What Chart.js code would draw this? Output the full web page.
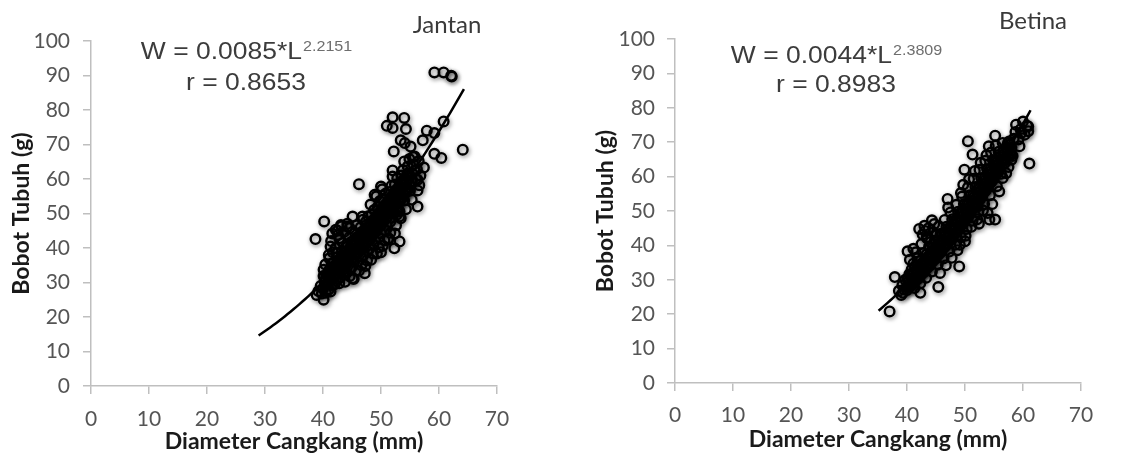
<!DOCTYPE html>
<html>
<head>
<meta charset="utf-8">
<script src="https://cdn.jsdelivr.net/npm/chart.js@4.4.1/dist/chart.umd.min.js"></script>
<style>
  html, body { margin: 0; padding: 0; background: #ffffff; }
  #wrap { position: relative; width: 1148px; height: 455px; overflow: hidden; }
  canvas { position: absolute; top: 0; }
</style>
</head>
<body>
<div id="wrap">
  <canvas id="jantan" width="574" height="455" style="left:0;width:574px;height:455px"></canvas>
  <canvas id="betina" width="574" height="455" style="left:574px;width:574px;height:455px"></canvas>
</div>
<script>
// ---- Axis ticks ----
const diameterTicks = [0, 10, 20, 30, 40, 50, 60, 70];
const bobotTicks = [0, 10, 20, 30, 40, 50, 60, 70, 80, 90, 100];

// ---- Jantan (male): shell diameter (mm) vs body weight (g) ----
const janDiameter = [
  39.2,39.6,39.8,40.0,40.3,40.5,40.2,40.7,40.9,40.4,
  41.0,41.2,41.3,41.5,41.6,41.8,41.1,41.7,41.4,41.9,41.6,
  42.0,42.1,42.3,42.4,42.2,42.6,42.7,42.8,42.5,42.9,42.3,42.6,
  43.0,43.1,43.2,43.3,43.4,43.6,43.5,43.7,43.8,43.9,43.2,43.8,
  44.0,44.1,44.2,44.3,44.5,44.6,44.4,44.7,44.8,44.9,44.2,44.6,
  45.0,45.1,45.2,45.3,45.5,45.4,45.6,45.7,45.8,45.9,45.3,45.7,
  46.0,46.1,46.2,46.3,46.5,46.4,46.6,46.7,46.8,46.9,46.2,46.6,
  47.0,47.1,47.2,47.3,47.4,47.5,47.6,47.7,47.8,47.9,47.3,47.6,
  48.0,48.1,48.2,48.3,48.4,48.5,48.6,48.7,48.8,48.9,48.3,48.6,48.2,
  49.0,49.1,49.2,49.3,49.4,49.5,49.6,49.7,49.8,49.9,49.3,49.6,49.2,
  50.0,50.1,50.2,50.3,50.4,50.5,50.6,50.7,50.8,50.9,50.3,50.6,50.2,
  51.0,51.1,51.2,51.3,51.4,51.5,51.6,51.7,51.8,51.9,51.3,51.6,
  52.0,52.1,52.2,52.3,52.4,52.5,52.6,52.7,52.8,52.9,52.4,52.7,
  53.0,53.1,53.2,53.3,53.5,53.6,53.4,53.7,53.8,53.9,
  54.0,54.2,54.4,54.5,54.6,54.7,54.3,54.8,54.9,
  55.0,55.2,55.4,55.6,55.8,55.5,55.3,
  56.0,56.2,56.5,56.8,56.6,
  40.1,40.6,41.1,41.6,42.1,42.6,43.1,43.6,44.1,44.6,45.1,45.6,46.1,46.6,47.1,
  47.6,48.1,48.6,49.1,49.6,50.1,50.6,51.1,51.6,52.1,52.6,53.1,53.6,54.1,54.6,
  40.4,40.9,41.4,41.9,42.4,42.9,43.4,43.9,44.4,44.9,45.4,45.9,46.4,46.9,47.4,
  47.9,48.4,48.9,49.4,49.9,50.4,50.9,51.4,51.9,52.4,52.9,53.4,53.9,54.4,54.9,
  40.3,40.8,41.3,41.8,42.3,42.8,43.3,43.8,44.3,44.8,45.3,45.8,46.3,46.8,
  47.3,47.8,48.3,48.8,49.3,49.8,50.3,50.8,51.3,51.8,52.3,52.8,53.3,53.8,
  59.2,60.8,62.1,62.2,64.1,60.4,59.2,60.8,59.2,57.9,
  57.2,57.4,56.3,56.3,56.3,55.8,55.1,52.0,51.0,52.0,
  54.0,54.3,53.4,54.1,52.2,54.0,52.0,46.2,50.0,52.0,
  53.2,45.1,40.2,38.7,42.2,43.1,44.2,41.3,41.0,40.1,
  38.9,40.1,41.3,42.8,45.1,47.2,50.0,52.3,53.2,51.2,
  46.8,48.9,53.2,53.2,53.4,54.0,55.3
];
const janBobot = [
  27.5,29.0,26.8,28.2,30.5,27.0,31.8,29.5,32.6,35.2,
  28.0,30.8,33.0,35.5,29.2,31.9,37.0,38.8,42.0,34.4,44.2,
  29.5,32.5,34.8,37.2,40.0,31.0,36.0,42.8,45.0,33.4,38.6,43.8,
  31.5,34.2,36.6,39.0,41.5,44.6,33.0,37.8,35.4,40.2,46.3,30.2,
  32.8,35.6,38.2,40.6,43.0,45.8,36.8,34.0,39.5,41.8,47.0,31.8,
  34.5,37.0,39.4,42.0,44.4,36.0,40.8,38.2,46.6,43.2,31.0,33.5,
  36.0,38.6,41.2,43.6,46.0,39.8,35.0,42.4,44.8,48.2,33.4,37.5,
  38.0,40.4,42.8,45.2,47.6,41.6,36.4,44.0,49.2,46.4,34.8,39.2,
  39.8,42.4,44.8,47.2,49.6,43.6,38.4,46.0,51.0,48.4,36.6,41.2,52.6,
  42.0,44.6,47.0,49.4,51.8,45.8,40.2,48.2,53.6,50.6,38.4,43.2,55.0,
  44.2,46.8,49.2,51.6,54.0,47.8,42.2,50.4,55.8,52.8,40.6,45.2,57.0,
  46.4,49.0,51.4,53.8,56.2,50.0,44.4,52.6,58.0,55.0,42.8,47.6,
  48.8,51.2,53.6,56.0,58.4,52.4,46.6,54.8,60.2,57.2,44.2,49.6,
  51.2,53.6,56.0,58.6,61.0,54.6,48.6,57.4,62.6,59.8,
  53.8,56.4,58.8,61.4,63.6,57.0,51.2,60.2,65.8,
  56.6,59.2,61.6,64.2,62.4,66.4,54.0,
  60.0,62.8,65.2,61.0,58.2,
  31.9,32.2,33.6,34.4,35.0,36.3,37.1,37.8,39.0,39.9,40.8,41.9,42.6,43.8,44.7,
  45.9,46.6,48.0,48.8,50.1,50.9,52.3,53.0,54.6,55.4,56.8,57.6,59.3,60.1,61.6,
  29.1,29.6,30.9,31.3,32.5,33.1,34.4,34.9,36.2,36.8,38.1,38.7,40.0,40.6,42.1,
  42.5,43.9,44.6,46.0,46.5,47.9,48.7,50.1,50.9,52.3,53.3,54.6,55.8,57.0,58.5,
  30.2,31.9,32.0,33.7,33.6,35.4,35.5,37.3,37.3,39.2,39.2,41.1,41.2,43.1,
  43.2,45.2,45.3,47.3,47.4,49.4,49.6,51.6,51.8,53.8,54.1,56.2,56.4,58.5,
  90.9,90.9,89.9,89.7,68.5,66.1,67.3,76.7,73.3,74.0,
  71.2,63.3,59.8,56.7,52.0,66.5,69.4,77.9,75.4,74.8,
  77.7,74.5,71.2,70.4,68.0,65.1,62.5,58.5,57.8,60.7,
  57.8,49.1,47.7,42.6,45.3,46.7,46.2,40.4,38.0,33.7,
  26.4,25.0,27.4,29.8,31.2,32.7,38.8,39.9,41.9,42.4,
  49.1,55.4,49.1,50.6,54.0,55.4,59.3
];

// ---- Betina (female): shell diameter (mm) vs body weight (g) ----
const betDiameter = [
  38.6,39.0,39.2,39.5,39.7,
  40.0,40.2,40.4,40.6,40.8,40.5,
  41.0,41.2,41.4,41.6,41.8,41.5,41.3,
  42.0,42.2,42.4,42.6,42.8,42.5,42.3,42.7,
  43.0,43.2,43.4,43.6,43.8,43.5,43.3,43.7,43.1,
  44.0,44.2,44.4,44.6,44.8,44.5,44.3,44.7,44.1,
  45.0,45.2,45.4,45.6,45.8,45.5,45.3,45.7,45.1,
  46.0,46.2,46.4,46.6,46.8,46.5,46.3,46.7,
  47.0,47.2,47.4,47.6,47.8,47.5,47.3,47.7,47.1,
  48.0,48.2,48.4,48.6,48.8,48.5,48.3,48.7,
  49.0,49.2,49.4,49.6,49.8,49.5,49.3,49.7,49.1,
  50.0,50.2,50.4,50.6,50.8,50.5,50.3,50.7,50.1,
  51.0,51.2,51.4,51.6,51.8,51.5,51.3,51.7,51.1,
  52.0,52.2,52.4,52.6,52.8,52.5,52.3,52.7,52.1,
  53.0,53.2,53.4,53.6,53.8,53.5,53.3,53.7,53.1,
  54.0,54.2,54.4,54.6,54.8,54.5,54.3,54.7,
  55.0,55.2,55.4,55.6,55.8,55.5,55.3,
  56.0,56.3,56.6,56.8,56.5,56.2,
  57.0,57.3,57.6,57.8,57.5,
  58.0,58.4,58.7,58.2,
  59.2,59.6,60.0,60.3,60.7,
  40.1,40.6,41.1,41.6,42.1,42.6,43.1,43.6,44.1,44.6,45.1,45.6,
  46.1,46.6,47.1,47.6,48.1,48.6,49.1,49.6,50.1,50.6,51.1,51.6,
  52.1,52.6,53.1,53.6,54.1,54.6,55.1,55.6,56.1,56.6,57.1,57.6,
  40.4,40.9,41.4,41.9,42.4,42.9,43.4,43.9,44.4,44.9,45.4,45.9,
  46.4,46.9,47.4,47.9,48.4,48.9,49.4,49.9,50.4,50.9,51.4,51.9,
  52.4,52.9,53.4,53.9,54.4,54.9,55.4,55.9,56.4,56.9,57.4,57.9,
  40.3,40.8,41.3,41.8,42.3,42.8,43.3,43.8,44.3,44.8,45.3,45.8,
  46.3,46.8,47.3,47.8,48.3,48.8,49.3,49.8,50.3,50.8,51.3,51.8,
  52.3,52.8,53.3,53.8,54.3,54.8,55.3,55.8,56.3,56.8,57.3,57.8,
  37.0,37.9,39.3,40.1,40.1,41.1,41.1,42.3,42.1,43.0,
  44.3,43.4,45.4,47.0,49.0,50.0,49.9,50.5,51.3,52.4,
  53.9,55.2,54.2,55.2,54.1,55.9,57.1,58.0,58.8,59.7,
  59.4,58.0,60.9,60.9,61.1,56.5,57.4,52.2,49.3,48.4
];
const betBobot = [
  26.8,25.6,28.4,27.2,30.0,
  27.0,29.4,31.6,28.2,33.0,35.8,
  29.6,31.8,34.0,30.4,36.2,38.0,27.6,
  31.0,33.4,35.6,32.2,37.8,40.4,29.0,43.2,
  32.8,35.2,37.4,34.0,39.6,42.0,30.6,45.0,44.2,
  34.6,37.0,39.2,35.8,41.4,43.8,32.4,46.2,41.0,
  36.6,39.0,41.2,37.8,43.4,45.6,34.4,32.0,43.0,
  38.6,41.0,43.2,39.8,45.4,47.4,36.2,34.2,
  40.6,43.0,45.2,41.8,47.6,49.6,38.2,36.4,51.0,
  42.8,45.2,47.4,44.0,49.8,51.8,40.2,38.6,
  45.0,47.4,49.8,46.2,52.0,54.2,42.4,57.6,40.2,
  47.4,49.8,52.2,48.6,54.6,56.8,44.8,59.2,42.8,
  49.8,52.2,54.6,51.0,57.0,59.4,47.2,61.6,45.4,
  52.2,54.6,57.0,53.4,59.6,62.0,49.6,64.0,47.6,
  54.6,57.2,59.6,56.0,62.2,64.6,52.0,66.2,50.2,
  57.2,59.8,62.2,58.6,64.8,67.0,54.6,52.0,
  59.8,62.4,64.8,61.2,67.2,57.2,69.0,
  62.6,65.0,67.4,63.8,59.6,60.8,
  65.4,68.0,70.2,66.6,62.8,
  68.4,71.0,73.0,66.0,
  70.8,73.8,76.0,72.2,74.8,
  30.4,31.2,32.1,33.0,33.9,34.8,35.8,36.7,37.7,38.7,39.7,40.7,
  41.7,42.8,43.8,44.9,46.0,47.1,48.2,49.4,50.5,51.7,52.9,54.1,
  55.3,56.6,57.8,59.1,60.4,61.7,63.0,64.3,65.7,67.1,68.5,69.9,
  27.9,28.5,29.6,30.3,31.4,32.2,33.3,34.1,35.3,36.1,37.3,38.1,
  39.4,40.2,41.5,42.4,43.7,44.6,46.0,46.9,48.3,49.2,50.7,51.7,
  53.2,54.2,55.7,56.8,58.2,59.3,60.8,62.0,63.6,64.8,66.3,67.6,
  28.8,30.5,30.5,32.2,32.3,34.1,34.2,36.0,36.2,38.0,38.2,40.0,
  40.2,42.1,42.4,44.3,44.6,46.5,46.8,48.8,49.1,51.1,51.5,53.5,
  54.0,56.0,56.5,58.5,59.0,61.1,61.7,63.8,64.4,66.6,67.2,69.3,
  20.8,30.8,26.2,27.9,38.3,39.0,34.7,26.2,44.8,45.7,
  47.3,42.4,27.9,53.5,33.9,41.2,62.0,70.3,66.4,46.3,
  49.4,47.5,47.5,71.9,68.8,55.7,61.0,64.9,75.1,72.7,
  68.8,66.4,74.6,73.2,63.8,69.8,69.8,51.4,55.2,43.6
];

// ---- Fitted power curves W = a * L^b, as stated on each panel ----
const janFit = { a: '0.0085', b: '2.2151', r: '0.8653', from: 28.9, to: 64.3 };
const betFit = { a: '0.0044', b: '2.3809', r: '0.8983', from: 35.1, to: 61.3 };

function fitCurve(fit) {
  const a = parseFloat(fit.a), b = parseFloat(fit.b);
  const pts = [];
  for (let L = fit.from; L < fit.to; L += 0.5) pts.push({ x: L, y: a * Math.pow(L, b) });
  pts.push({ x: fit.to, y: a * Math.pow(fit.to, b) });
  return pts;
}

function zip(xs, ys) { return xs.map((x, i) => ({ x, y: ys[i] })); }

// soft drop shadow under the markers
const markerShadow = {
  id: 'markerShadow',
  beforeDatasetDraw(chart, args) {
    if (args.index !== 1) return;
    const ctx = chart.ctx;
    ctx.save();
    ctx.shadowColor = 'rgba(0,0,0,0.55)';
    ctx.shadowBlur = 4;
    ctx.shadowOffsetX = 1;
    ctx.shadowOffsetY = 1.5;
  },
  afterDatasetDraw(chart, args) {
    if (args.index !== 1) return;
    chart.ctx.restore();
  }
};

// panel name and regression equation text
const panelNotes = {
  id: 'panelNotes',
  afterDraw(chart, args, o) {
    const ctx = chart.ctx;
    ctx.save();
    ctx.fillStyle = '#3a3a3a';
    ctx.font = '24px Lato';
    ctx.textAlign = 'center';
    ctx.textBaseline = 'middle';
    ctx.fillText(o.name, o.nameX, o.nameY);

    const main = 'W = ' + o.fit.a + '*L';
    const bigFont = o.eqSize + 'px "Liberation Sans"';
    const supFont = o.supSize + 'px "Liberation Sans"';
    ctx.font = bigFont;
    const wm = ctx.measureText(main).width;
    ctx.font = supFont;
    const ws = ctx.measureText(o.fit.b).width;
    ctx.textAlign = 'left';
    ctx.textBaseline = 'alphabetic';
    ctx.save();
    ctx.translate(o.eqX - (wm + ws) * o.stretch / 2, o.eqY);
    ctx.scale(o.stretch, 1);
    ctx.fillStyle = '#3c3c3c';
    ctx.font = bigFont;
    ctx.fillText(main, 0, 0);
    ctx.fillStyle = '#6e6e6e';
    ctx.font = supFont;
    ctx.fillText(o.fit.b, wm + 1, -o.supRise);
    ctx.restore();

    const rText = 'r = ' + o.fit.r;
    ctx.font = bigFont;
    const wr = ctx.measureText(rText).width;
    ctx.save();
    ctx.translate(o.eqX - wr * o.stretch / 2, o.rY);
    ctx.scale(o.stretch, 1);
    ctx.fillStyle = '#3c3c3c';
    ctx.fillText(rText, 0, 0);
    ctx.restore();
    ctx.restore();
  }
};

Chart.defaults.font.family = 'Lato';

function makePanel(id, xs, ys, fit, geo, notes) {
  const axisGrey = '#bfbfbf';
  return new Chart(document.getElementById(id), {
    type: 'scatter',
    data: {
      datasets: [
        {
          type: 'line',
          data: fitCurve(fit),
          borderColor: '#000000',
          borderWidth: 2.5,
          pointRadius: 0,
          fill: false,
          tension: 0
        },
        {
          data: zip(xs, ys),
          pointRadius: 4.8,
          pointBorderWidth: 2.4,
          borderColor: '#000000',
          backgroundColor: 'rgba(0,0,0,0)',
          pointBackgroundColor: 'rgba(0,0,0,0)'
        }
      ]
    },
    options: {
      responsive: false,
      animation: false,
      devicePixelRatio: 1,
      layout: { padding: { left: 0, top: geo.top, right: geo.right, bottom: 0 } },
      plugins: {
        legend: { display: false },
        tooltip: { enabled: false },
        panelNotes: notes
      },
      scales: {
        x: {
          type: 'linear',
          min: 0, max: 70,
          afterBuildTicks: s => { s.ticks = diameterTicks.map(v => ({ value: v })); },
          afterFit: s => { s.height = geo.xHeight; },
          grid: { drawOnChartArea: false, drawTicks: true, tickLength: 8, color: axisGrey, lineWidth: 1.5 },
          border: { display: true, color: axisGrey, width: 1.5 },
          ticks: { color: '#555555', font: { size: 21 }, padding: geo.xTickPad, maxRotation: 0 },
          title: {
            display: true,
            text: 'Diameter Cangkang (mm)',
            color: '#1a1a1a',
            font: { size: 23, weight: 'bold' },
            padding: { top: 0, bottom: geo.xTitlePad }
          }
        },
        y: {
          type: 'linear',
          min: 0, max: 100,
          afterBuildTicks: s => { s.ticks = bobotTicks.map(v => ({ value: v })); },
          afterFit: s => { s.width = geo.yWidth; },
          grid: { drawOnChartArea: false, drawTicks: true, tickLength: 8, color: axisGrey, lineWidth: 1.5 },
          border: { display: true, color: axisGrey, width: 1.5 },
          ticks: { color: '#555555', font: { size: 21 }, padding: geo.yTickPad },
          title: {
            display: true,
            text: 'Bobot Tubuh (g)',
            color: '#1a1a1a',
            font: { size: 23, weight: 'bold' },
            padding: { top: geo.yTitlePad, bottom: 0 }
          }
        }
      }
    },
    plugins: [markerShadow, panelNotes]
  });
}

makePanel('jantan', janDiameter, janBobot, janFit,
  { top: 41, right: 77, xHeight: 69, yWidth: 91, xTickPad: 13, xTitlePad: 0, yTickPad: 13, yTitlePad: 8 },
  { name: 'Jantan', nameX: 447, nameY: 25, fit: janFit, eqX: 246, eqY: 59, rY: 90,
    eqSize: 23, supSize: 14, supRise: 8, stretch: 1.15 });

makePanel('betina', betDiameter, betBobot, betFit,
  { top: 39, right: 67, xHeight: 72, yWidth: 101, xTickPad: 12, xTitlePad: 2, yTickPad: 12, yTitlePad: 18 },
  { name: 'Betina', nameX: 459, nameY: 21, fit: betFit, eqX: 262, eqY: 63, rY: 92,
    eqSize: 23, supSize: 14, supRise: 8, stretch: 1.15 });
</script>
</body>
</html>
